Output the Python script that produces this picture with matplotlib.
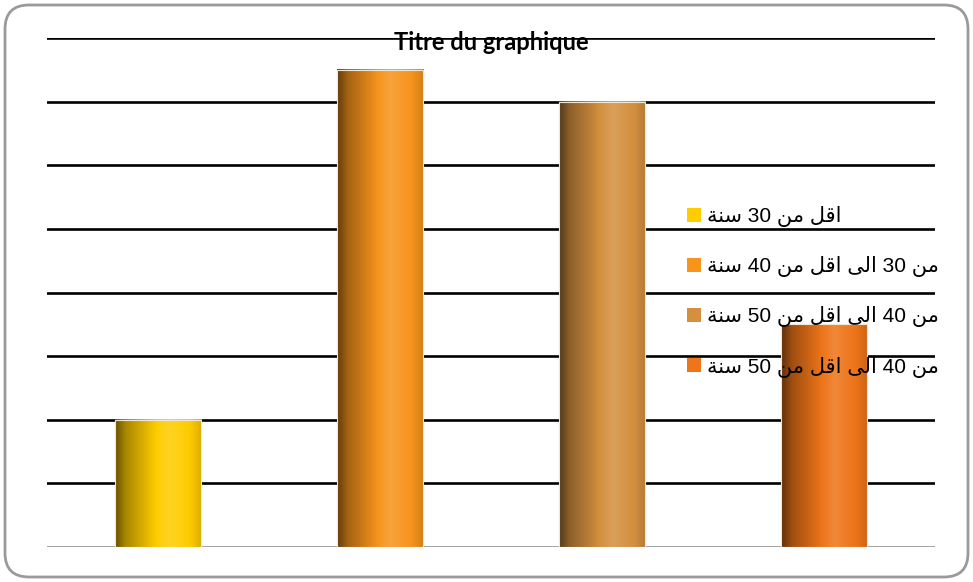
import numpy as np
import matplotlib
matplotlib.use("Agg")
import matplotlib.pyplot as plt
from matplotlib.patches import FancyBboxPatch, Patch

# data
categories = ["اقل من 30 سنة",
              "من 30 الى اقل من 40 سنة",
              "من 40 الى اقل من 50 سنة",
              "من 40 الى اقل من 50 سنة"]
values = [2, 7.5, 7, 3.5]
bar_colors = ["#FFCC00", "#F7941D", "#D4903F", "#EE7519"]
title = "Titre du graphique"

# small arabic shaper for the letters used in the labels
# (isolated, final, initial, medial)
FORMS = {
    "\u0627": ("\uFE8D", "\uFE8E", None, None),        # alef
    "\u0629": ("\uFE93", "\uFE94", None, None),        # teh marbuta
    "\u0649": ("\uFEEF", "\uFEF0", None, None),        # alef maksura
    "\u0642": ("\uFED5", "\uFED6", "\uFED7", "\uFED8"),  # qaf
    "\u0644": ("\uFEDD", "\uFEDE", "\uFEDF", "\uFEE0"),  # lam
    "\u0645": ("\uFEE1", "\uFEE2", "\uFEE3", "\uFEE4"),  # meem
    "\u0646": ("\uFEE5", "\uFEE6", "\uFEE7", "\uFEE8"),  # noon
    "\u0633": ("\uFEB1", "\uFEB2", "\uFEB3", "\uFEB4"),  # seen
}


def shape_word(word):
    out = []
    for i, ch in enumerate(word):
        if ch not in FORMS:
            out.append(ch)
            continue
        prev_ch = word[i - 1] if i > 0 else None
        next_ch = word[i + 1] if i + 1 < len(word) else None
        joins_prev = prev_ch in FORMS and FORMS[prev_ch][2] is not None
        joins_next = FORMS[ch][2] is not None and next_ch in FORMS
        iso, fin, ini, med = FORMS[ch]
        if joins_prev and joins_next:
            out.append(med)
        elif joins_prev:
            out.append(fin)
        elif joins_next:
            out.append(ini)
        else:
            out.append(iso)
    return "".join(out)


def visual(text):
    words = []
    for w in reversed(text.split(" ")):
        if any(c in FORMS for c in w):
            words.append(shape_word(w)[::-1])
        else:
            words.append(w)
    return " ".join(words)


def shade(color, t):
    # cylinder-like horizontal shading, dark on the left, bright past the middle
    rgb = np.array(matplotlib.colors.to_rgb(color))
    stops_t = [0.0, 0.12, 0.35, 0.62, 0.88, 1.0]
    stops_f = [0.40, 0.66, 0.88, 1.14, 0.98, 0.85]
    f = np.interp(t, stops_t, stops_f)
    out = np.empty((len(t), 3))
    for i, k in enumerate(f):
        if k <= 1:
            out[i] = rgb * k
        else:
            out[i] = rgb + (1 - rgb) * (k - 1)
    return np.clip(out, 0, 1)


W, H = 973, 582
fig = plt.figure(figsize=(W / 100, H / 100), dpi=100)

# outer rounded frame
bg = fig.add_axes([0, 0, 1, 1], zorder=-5)
bg.set_xlim(0, W)
bg.set_ylim(H, 0)
bg.axis("off")
bg.add_patch(FancyBboxPatch((5, 5), W - 10, H - 10,
                            boxstyle="round,pad=0,rounding_size=24",
                            facecolor="white", edgecolor="#9a9a9a", lw=2))

ax = fig.add_axes([47 / W, (H - 547) / H, (935 - 47) / W, (547 - 38) / H])
ax.patch.set_alpha(0)
x = np.arange(len(values))
ax.set_xlim(-0.5, len(values) - 0.5)
ax.set_ylim(0, 8)

for yv in range(1, 9):
    ax.axhline(yv, color="black", lw=1.9, zorder=1)
ax.axhline(0, color="#9a9a9a", lw=2, zorder=1)

bars = ax.bar(x, values, width=0.39, facecolor="none",
              edgecolor="#f3e6d0", lw=0.8, zorder=3)

t = np.linspace(0, 1, 200)
for rect, col in zip(bars, bar_colors):
    x0, w, h = rect.get_x(), rect.get_width(), rect.get_height()
    img = shade(col, t)[np.newaxis, :, :]
    ax.imshow(img, extent=[x0, x0 + w, 0, h], aspect="auto",
              interpolation="bilinear", zorder=2)

ax.set_xlim(-0.5, len(values) - 0.5)
ax.set_ylim(0, 8)
for s in ax.spines.values():
    s.set_visible(False)
ax.set_xticks([])
ax.set_yticks([])

fig.text(491 / W, 1 - 42 / H, title, ha="center", va="center",
         fontsize=17, fontweight="bold", family="Lato", zorder=10)

handles = [Patch(facecolor=c, edgecolor="none") for c in bar_colors]
leg = fig.legend(handles, [visual(c) for c in categories],
                 loc="upper left", bbox_to_anchor=(687 / W, 1 - 206 / H),
                 frameon=False, borderpad=0, borderaxespad=0,
                 handlelength=0.68, handleheight=0.68, handletextpad=0.3,
                 labelspacing=1.4,
                 prop={"family": ["Liberation Sans", "DejaVu Sans"], "size": 15})
leg.set_zorder(10)

fig.savefig("out.png", dpi=100)
